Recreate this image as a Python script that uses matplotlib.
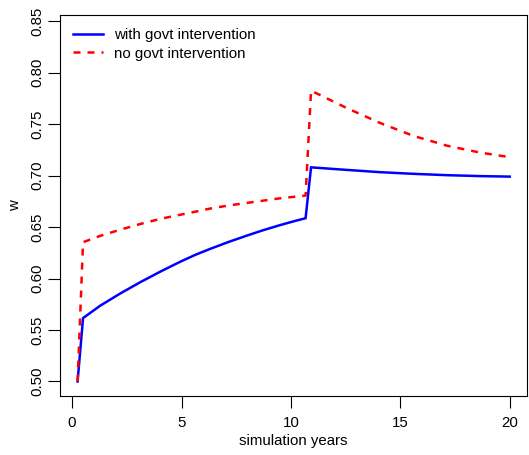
import matplotlib
matplotlib.use("Agg")
import matplotlib.pyplot as plt

years = [0.25, 0.5, 1.29, 2.21, 3.12, 4.04, 4.95, 5.64, 6.32, 7.16, 8.0,
         8.68, 9.52, 10.2, 10.67, 10.92, 12.57, 14.09, 15.61, 17.14, 18.66, 20.0]
w_with = [0.500, 0.5616, 0.5737, 0.5856, 0.5965, 0.6068, 0.6164, 0.6231, 0.6289,
          0.6356, 0.6418, 0.6466, 0.652, 0.656, 0.6586,
          0.7080, 0.7055, 0.7033, 0.7017, 0.7004, 0.6995, 0.6990]
w_without = [0.500, 0.6353, 0.6415, 0.6475, 0.653, 0.658, 0.662, 0.665, 0.668,
             0.671, 0.6735, 0.6755, 0.678, 0.6795, 0.6806,
             0.7825, 0.7654, 0.751, 0.7385, 0.729, 0.7223, 0.7179]
labels = ["with govt intervention", "no govt intervention"]
xticks = [0, 5, 10, 15, 20]
yticks = [0.50, 0.55, 0.60, 0.65, 0.70, 0.75, 0.80, 0.85]

plt.rcParams['font.family'] = ['Liberation Sans', 'DejaVu Sans']
FS = 10.8

fig = plt.figure(figsize=(5.29, 4.55), dpi=100)
ax = fig.add_axes([60.3/529, 59/455, (527-60.3)/529, (396-15.3)/455])

ax.plot(years, w_with, color=(0, 0, 1), lw=1.8, label=labels[0],
        solid_joinstyle='miter')
ax.plot(years, w_without, color=(1, 0, 0), lw=1.8, dashes=(2.8, 2.8),
        label=labels[1])

ax.set_xlim(-0.54, 20.79)
ax.set_ylim(0.4859, 0.8557)
ax.set_xticks(xticks)
ax.set_xticklabels([str(t) for t in xticks], fontsize=FS)
ax.set_yticks(yticks)
ax.set_yticklabels([f"{t:.2f}" for t in yticks], fontsize=FS, rotation=90,
                   va='center')
ax.tick_params(axis='x', length=8.5, width=0.8, pad=6, colors='black')
ax.tick_params(axis='y', length=8.5, width=0.8, pad=3, colors='black')
for sp in ax.spines.values():
    sp.set_linewidth(0.8)
    sp.set_color('black')

ax.set_xlabel("simulation years", fontsize=FS, labelpad=3)
ax.set_ylabel("w", fontsize=FS, labelpad=6)

leg = ax.legend(loc='upper left', bbox_to_anchor=(0.0, 1.0), frameon=False,
                fontsize=FS, handlelength=2.0, handletextpad=0.75,
                labelspacing=0.3, borderaxespad=0.45)

fig.savefig("out.png", dpi=100)
